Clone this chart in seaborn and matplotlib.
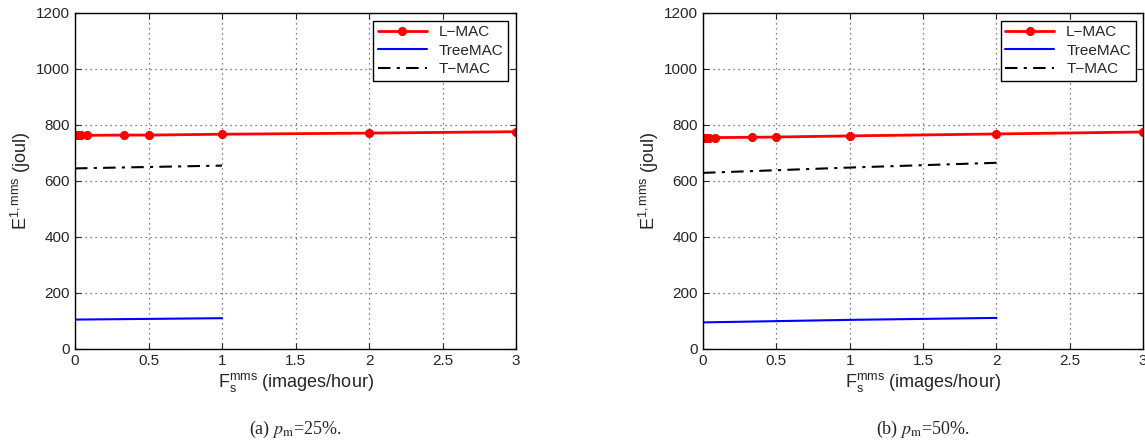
import pandas as pd
import matplotlib
matplotlib.use("Agg")
import matplotlib.pyplot as plt
import seaborn as sns

# Sending rate F_s^mms (images/hour)
lmac_x = [0.0069, 0.0208, 0.0417, 0.0833, 0.3333, 0.5, 1, 2, 3]

# (a) p_m = 25%
lmac_a = [763, 763, 763, 763, 764, 764, 767, 771, 776]
tree_x_a = [0, 1]
tree_a = [105, 110]
tmac_x_a = [0, 1]
tmac_a = [645, 655]

# (b) p_m = 50%
lmac_b = [754, 754, 754, 755, 756, 757, 761, 768, 775]
tree_x_b = [0, 1, 2]
tree_b = [95, 104, 111]
tmac_x_b = [0, 1, 2]
tmac_b = [629, 648, 665]

captions = ["(a) $p_\\mathrm{m}$=25%.", "(b) $p_\\mathrm{m}$=50%."]

sns.set_style("ticks")
plt.rcParams["font.family"] = ["Liberation Sans", "DejaVu Sans"]
plt.rcParams["mathtext.fontset"] = "custom"
plt.rcParams["mathtext.rm"] = "Liberation Sans"
plt.rcParams["mathtext.it"] = "Liberation Sans:italic"

fig = plt.figure(figsize=(11.45, 4.43), dpi=100)
axes = [fig.add_axes([0.0655, 0.2122, 0.3852, 0.7585]),
        fig.add_axes([0.614, 0.2122, 0.3844, 0.7585])]

panels = [
    (lmac_a, tree_x_a, tree_a, tmac_x_a, tmac_a),
    (lmac_b, tree_x_b, tree_b, tmac_x_b, tmac_b),
]

for ax, (lm, tx, tv, mx, mv), cap in zip(axes, panels, captions):
    df_l = pd.DataFrame({"x": lmac_x, "y": lm})
    df_t = pd.DataFrame({"x": tx, "y": tv})
    df_m = pd.DataFrame({"x": mx, "y": mv})
    sns.lineplot(data=df_l, x="x", y="y", ax=ax, color="red", lw=2,
                 marker=(8, 2, 0), markersize=6, markeredgewidth=2.2,
                 markeredgecolor="red", label="L\u2212MAC")
    sns.lineplot(data=df_t, x="x", y="y", ax=ax, color="blue", lw=1.5, label="TreeMAC")
    sns.lineplot(data=df_m, x="x", y="y", ax=ax, color="black", lw=1.5,
                 linestyle=(0, (6, 3, 1.5, 3)), label="T\u2212MAC")

    ax.set_xlim(0, 3)
    ax.set_ylim(0, 1200)
    ax.set_xticks([0, 0.5, 1, 1.5, 2, 2.5, 3])
    ax.set_xticklabels(["0", "0.5", "1", "1.5", "2", "2.5", "3"])
    ax.set_yticks(range(0, 1201, 200))
    ax.tick_params(direction="in", top=True, right=True, labelsize=11, length=4)
    ax.grid(True, linestyle=(0, (1, 3)), color="#555555", lw=0.9)
    for s in ax.spines.values():
        s.set_linewidth(1.0)
        s.set_color("black")
    ax.set_xlabel(r"F$_\mathrm{s}^\mathrm{mms}$ (images/hour)", fontsize=13, labelpad=2)
    ax.set_ylabel(r"E$^\mathrm{1,mms}$ (joul)", fontsize=13, labelpad=2)
    leg = ax.legend(loc="upper right", fontsize=11, fancybox=False, framealpha=1,
                    edgecolor="black", borderaxespad=0.5, handlelength=3.2,
                    labelspacing=0.3, borderpad=0.3)
    leg.get_frame().set_linewidth(1.0)
    pos = ax.get_position()
    fig.text((pos.x0 + pos.x1) / 2, 0.03, cap, ha="center", va="center",
             fontsize=13, family=["Liberation Serif"],
             math_fontfamily="stix")

fig.savefig("out.png", dpi=100)
